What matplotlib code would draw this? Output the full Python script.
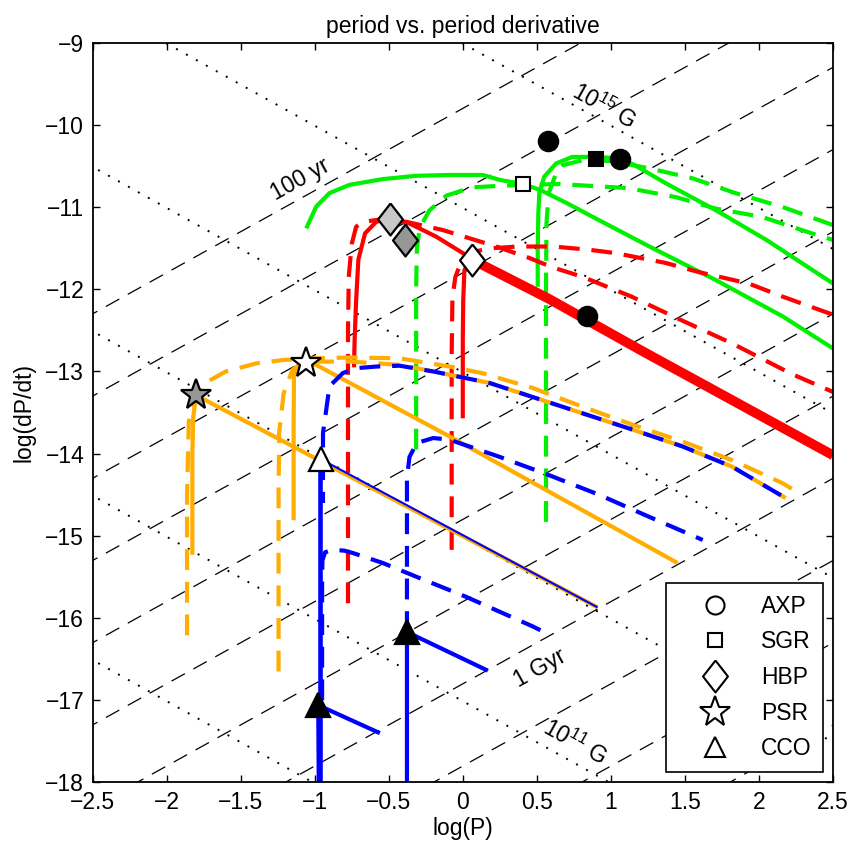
import numpy as np
import matplotlib
matplotlib.use("Agg")
import matplotlib.pyplot as plt
from matplotlib.lines import Line2D

plt.rcParams['font.family'] = ['Liberation Sans', 'DejaVu Sans']
plt.rcParams['mathtext.default'] = 'regular'
plt.rcParams['lines.scale_dashes'] = False
plt.rcParams['lines.solid_capstyle'] = 'butt'
plt.rcParams['lines.dash_capstyle'] = 'butt'

VERT = "#00f000"
ROUGE = "#ff0000"
ORANGE = "#ffad00"
BLEU = "#0000ff"
TIRET = (0, (15, 8.5))

# lignes de fond : age caracteristique (tirets) et champ B (pointilles)
ages_yr = [1e2, 1e3, 1e4, 1e5, 1e6, 1e7, 1e8, 1e9, 1e10, 1e11, 1e12]
champs_G = [1e15, 1e14, 1e13, 1e12, 1e11, 1e10]

# traces vertes
vert1_x = [-1.057, -0.99, -0.90, -0.765, -0.54, -0.315, -0.09, 0.135, 0.25, 0.405, 0.52, 0.70, 0.92, 1.26, 1.71, 2.16, 2.5]
vert1_y = [-11.26, -10.995, -10.83, -10.73, -10.66, -10.62, -10.61, -10.61, -10.67, -10.72, -10.79, -10.95, -11.16, -11.48, -11.89, -12.33, -12.72]
vert2_x = [0.506, 0.506, 0.51, 0.517, 0.55, 0.63, 0.74, 0.86, 1.0, 1.15, 1.37, 1.71, 2.05, 2.5]
vert2_y = [-11.97, -11.5, -11.08, -10.83, -10.63, -10.47, -10.39, -10.39, -10.40, -10.48, -10.71, -11.04, -11.40, -11.93]
vert3_x = [-0.315, -0.315, -0.31, -0.29, -0.225, -0.11, 0.065, 0.27, 0.42, 0.65, 1.12, 1.44, 1.71, 2.02, 2.39, 2.5]
vert3_y = [-13.95, -12.0, -11.5, -11.25, -11.04, -10.86, -10.76, -10.74, -10.73, -10.72, -10.77, -10.88, -11.02, -11.12, -11.34, -11.40]
vert4_x = [0.562, 0.562, 0.565, 0.58, 0.63, 0.675, 0.81, 1.0, 1.146, 1.26, 1.55, 1.84, 2.16, 2.5]
vert4_y = [-14.83, -12.0, -11.2, -10.83, -10.59, -10.49, -10.43, -10.44, -10.49, -10.53, -10.65, -10.83, -11.0, -11.22]

# traces rouges
rouge1_x = [-0.735, -0.73, -0.72, -0.705, -0.66, -0.585, -0.49, -0.36, -0.18, 0.0, 0.063]
rouge1_y = [-12.95, -12.6, -12.13, -11.64, -11.32, -11.18, -11.14, -11.20, -11.36, -11.56, -11.64]
rouge2_x = [0.0, 0.0, 0.003, 0.011, 0.035, 0.063]
rouge2_y = [-13.57, -12.6, -12.13, -11.77, -11.68, -11.64]
rouge_epais_x = [0.063, 0.585, 1.21, 2.5]
rouge_epais_y = [-11.64, -12.12, -12.75, -14.02]
rouge3_x = [-0.775, -0.775, -0.77, -0.75, -0.72, -0.675, -0.55, -0.38, -0.135, 0.045, 0.225, 0.45, 0.6, 0.81, 1.14, 1.48, 1.82, 2.22, 2.5]
rouge3_y = [-15.82, -12.5, -11.85, -11.45, -11.24, -11.18, -11.15, -11.18, -11.28, -11.38, -11.48, -11.62, -11.73, -11.85, -12.09, -12.38, -12.66, -13.03, -13.25]
rouge4_x = [-0.075, -0.075, -0.07, -0.05, -0.01, 0.05, 0.2, 0.38, 0.61, 0.855, 1.03, 1.37, 1.59, 1.93, 2.16, 2.5]
rouge4_y = [-15.17, -12.8, -12.1, -11.85, -11.66, -11.55, -11.50, -11.48, -11.48, -11.52, -11.56, -11.68, -11.79, -11.93, -12.09, -12.31]

# traces orange
orange1_x = [-1.826, -1.826, -1.82, -1.80, 0.91]
orange1_y = [-15.23, -14.0, -13.55, -13.29, -15.87]
orange2_x = [-1.142, -1.142, -1.14, -1.12, -1.057, -0.99, -0.09, 1.45]
orange2_y = [-14.81, -13.6, -13.06, -12.95, -12.90, -12.92, -13.79, -15.33]
orange3_x = [-1.862, -1.862, -1.85, -1.80, -1.74, -1.60, -1.39, -1.21, -0.98, -0.76, -0.427, -0.09, 0.13, 0.47, 0.81, 1.15, 1.48, 1.82, 2.16, 2.27]
orange3_y = [-16.21, -14.5, -13.61, -13.35, -13.14, -13.0, -12.9, -12.86, -12.84, -12.83, -12.84, -12.94, -13.02, -13.2, -13.43, -13.65, -13.85, -14.08, -14.36, -14.48]
orange4_x = [-1.244, -1.244, -1.24, -1.21, -1.15, -1.09, -1.0, -0.76, -0.427, -0.2, 0.18, 0.47, 0.81, 1.15, 1.48, 1.82, 2.18]
orange4_y = [-16.65, -14.5, -13.75, -13.27, -12.98, -12.9, -12.88, -12.88, -12.92, -13.0, -13.14, -13.31, -13.51, -13.71, -13.91, -14.16, -14.54]

# traces bleues
bleu1_x = [-0.962, -0.962]
bleu1_y = [-18.2, -14.07]
bleu1_diag_x = [-0.955, 0.91]
bleu1_diag_y = [-14.07, -15.87]
bleu2_x = [-0.972, -0.976, -0.56]
bleu2_y = [-18.2, -17.06, -17.40]
bleu3_x = [-0.377, -0.377, 0.169]
bleu3_y = [-18.2, -16.17, -16.64]
bleu4_x = [-0.944, -0.944, -0.90, -0.81, -0.72, -0.58, -0.427, -0.2, 0.18, 0.47, 0.81, 1.15, 1.48, 1.82, 2.18]
bleu4_y = [-14.6, -13.75, -13.18, -13.02, -12.96, -12.94, -12.93, -13.0, -13.14, -13.31, -13.51, -13.71, -13.91, -14.16, -14.54]
bleu5_x = [-0.377, -0.377, -0.36, -0.31, -0.2, -0.09, 0.25, 0.58, 0.92, 1.26, 1.62]
bleu5_y = [-16.17, -14.3, -14.04, -13.87, -13.81, -13.83, -14.04, -14.26, -14.5, -14.77, -15.05]
bleu6_x = [-0.95, -0.95, -0.948, -0.93, -0.875, -0.80, -0.74, -0.54, -0.31, -0.09, 0.02, 0.47, 0.56]
bleu6_y = [-17.0, -15.6, -15.3, -15.2, -15.17, -15.18, -15.21, -15.33, -15.50, -15.66, -15.74, -16.1, -16.18]

# objets observes
axp_x = [0.578, 1.06, 0.836]
axp_y = [-10.20, -10.41, -12.32]
sgr_x = [0.90, 0.405]
sgr_y = [-10.42, -10.72]
sgr_c = ["black", "white"]
hbp_x = [-0.49, -0.39, 0.063]
hbp_y = [-11.15, -11.40, -11.64]
hbp_c = ["#c8c8c8", "#969696", "white"]
psr_x = [-1.80, -1.057]
psr_y = [-13.29, -12.90]
psr_c = ["#969696", "white"]
cco_x = [-0.955, -0.976, -0.377]
cco_y = [-14.07, -17.06, -16.17]
cco_c = ["white", "black", "black"]

losange = [(0, 1), (0.78, 0), (0, -1), (-0.78, 0), (0, 1)]

fig = plt.figure(figsize=(8.49, 8.46), dpi=100)
ax = fig.add_axes([0.109, 0.0751, 0.8722, 0.8745])

x_fond = np.array([-3.0, 3.0])
for age in ages_yr:
    c = -np.log10(2 * age * 3.156e7)
    ax.plot(x_fond, x_fond + c, color="black", lw=0.9, ls=(0, (11, 7)), zorder=1)
for b in champs_G:
    c = 2 * np.log10(b) - 2 * np.log10(3.2e19)
    ax.plot(x_fond, -x_fond + c, color="black", lw=1.4, ls=(0, (1.4, 6.8)), zorder=1)

ax.plot(vert1_x, vert1_y, color=VERT, lw=3, zorder=2)
ax.plot(vert2_x, vert2_y, color=VERT, lw=3, zorder=2)
ax.plot(vert3_x, vert3_y, color=VERT, lw=3, ls=TIRET, zorder=2)
ax.plot(vert4_x, vert4_y, color=VERT, lw=3, ls=TIRET, zorder=2)

ax.plot(rouge3_x, rouge3_y, color=ROUGE, lw=3, ls=TIRET, zorder=2)
ax.plot(rouge4_x, rouge4_y, color=ROUGE, lw=3, ls=TIRET, zorder=2)
ax.plot(rouge1_x, rouge1_y, color=ROUGE, lw=3, zorder=2)
ax.plot(rouge2_x, rouge2_y, color=ROUGE, lw=3, zorder=2)
ax.plot(rouge_epais_x, rouge_epais_y, color=ROUGE, lw=7, zorder=2)

ax.plot(orange3_x, orange3_y, color=ORANGE, lw=3, ls=TIRET, zorder=2)
ax.plot(orange4_x, orange4_y, color=ORANGE, lw=3, ls=TIRET, zorder=2)
ax.plot(orange1_x, orange1_y, color=ORANGE, lw=3, zorder=2)
ax.plot(orange2_x, orange2_y, color=ORANGE, lw=3, zorder=2)

ax.plot(bleu4_x, bleu4_y, color=BLEU, lw=3, ls=(7, (15, 8.5)), zorder=2)
ax.plot(bleu5_x, bleu5_y, color=BLEU, lw=3, ls=TIRET, zorder=2)
ax.plot(bleu6_x, bleu6_y, color=BLEU, lw=3, ls=TIRET, zorder=2)
ax.plot(bleu1_x, bleu1_y, color=BLEU, lw=3.3, zorder=2)
ax.plot(bleu1_diag_x, bleu1_diag_y, color=BLEU, lw=1.5, zorder=2)
ax.plot(bleu2_x, bleu2_y, color=BLEU, lw=3, zorder=2)
ax.plot(bleu3_x, bleu3_y, color=BLEU, lw=3, zorder=2)

for i in range(len(axp_x)):
    ax.plot(axp_x[i], axp_y[i], marker="o", ms=14, mfc="black", mec="black", mew=1.5, zorder=5)
for i in range(len(sgr_x)):
    ax.plot(sgr_x[i], sgr_y[i], marker="s", ms=10.5, mfc=sgr_c[i], mec="black", mew=1.5, zorder=5)
for i in range(len(hbp_x)):
    ax.plot(hbp_x[i], hbp_y[i], marker=losange, ms=23, mfc=hbp_c[i], mec="black", mew=1.6, zorder=5)
for i in range(len(psr_x)):
    ax.plot(psr_x[i], psr_y[i], marker="*", ms=23, mfc=psr_c[i], mec="black", mew=1.6, zorder=5)
for i in range(len(cco_x)):
    ax.plot(cco_x[i], cco_y[i], marker="^", ms=17, mfc=cco_c[i], mec="black", mew=1.6, zorder=5)

ax.text(-1.096, -10.67, "100 yr", rotation=29, ha="center", va="center", rotation_mode="anchor", fontsize=16.5)
ax.text(0.524, -16.61, "1 Gyr", rotation=29, ha="center", va="center", rotation_mode="anchor", fontsize=16.5)
ax.text(0.949, -9.776, r"$10^{15}$ G", rotation=-29, ha="center", va="center", rotation_mode="anchor", fontsize=16.5)
ax.text(0.753, -17.51, r"$10^{11}$ G", rotation=-29, ha="center", va="center", rotation_mode="anchor", fontsize=16.5)

ax.set_xlim(-2.5, 2.5)
ax.set_ylim(-18, -9)
ax.set_xticks(np.arange(-2.5, 2.51, 0.5))
ax.set_xticklabels(["\u22122.5", "\u22122", "\u22121.5", "\u22121", "\u22120.5", "0", "0.5", "1", "1.5", "2", "2.5"])
ax.set_yticks(np.arange(-18, -8.9, 1))
ax.tick_params(direction="in", top=True, right=True, length=5, width=1, labelsize=16.5, pad=6)
for s in ax.spines.values():
    s.set_linewidth(1.3)
ax.set_xlabel("log(P)", fontsize=16.5, labelpad=2)
ax.set_ylabel("log(dP/dt)", fontsize=16.5, labelpad=7)
ax.set_title("period vs. period derivative", fontsize=16.5, pad=7)

poignees = [
    Line2D([], [], ls="none", marker="o", ms=13, mfc="white", mec="black", mew=1.5, label="AXP"),
    Line2D([], [], ls="none", marker="s", ms=10, mfc="white", mec="black", mew=1.5, label="SGR"),
    Line2D([], [], ls="none", marker=losange, ms=23, mfc="white", mec="black", mew=1.5, label="HBP"),
    Line2D([], [], ls="none", marker="*", ms=23, mfc="white", mec="black", mew=1.5, label="PSR"),
    Line2D([], [], ls="none", marker="^", ms=15, mfc="white", mec="black", mew=1.5, label="CCO"),
]
leg = ax.legend(handles=poignees, loc="lower right", bbox_to_anchor=(0.9869, 0.0146), borderaxespad=0,
                fontsize=16.5, fancybox=False, framealpha=1, edgecolor="black", handlelength=3.3,
                handletextpad=0.35, labelspacing=0.55, borderpad=0.5)
leg.get_frame().set_linewidth(1.2)
leg.set_zorder(10)

plt.savefig("out.png", dpi=100)
